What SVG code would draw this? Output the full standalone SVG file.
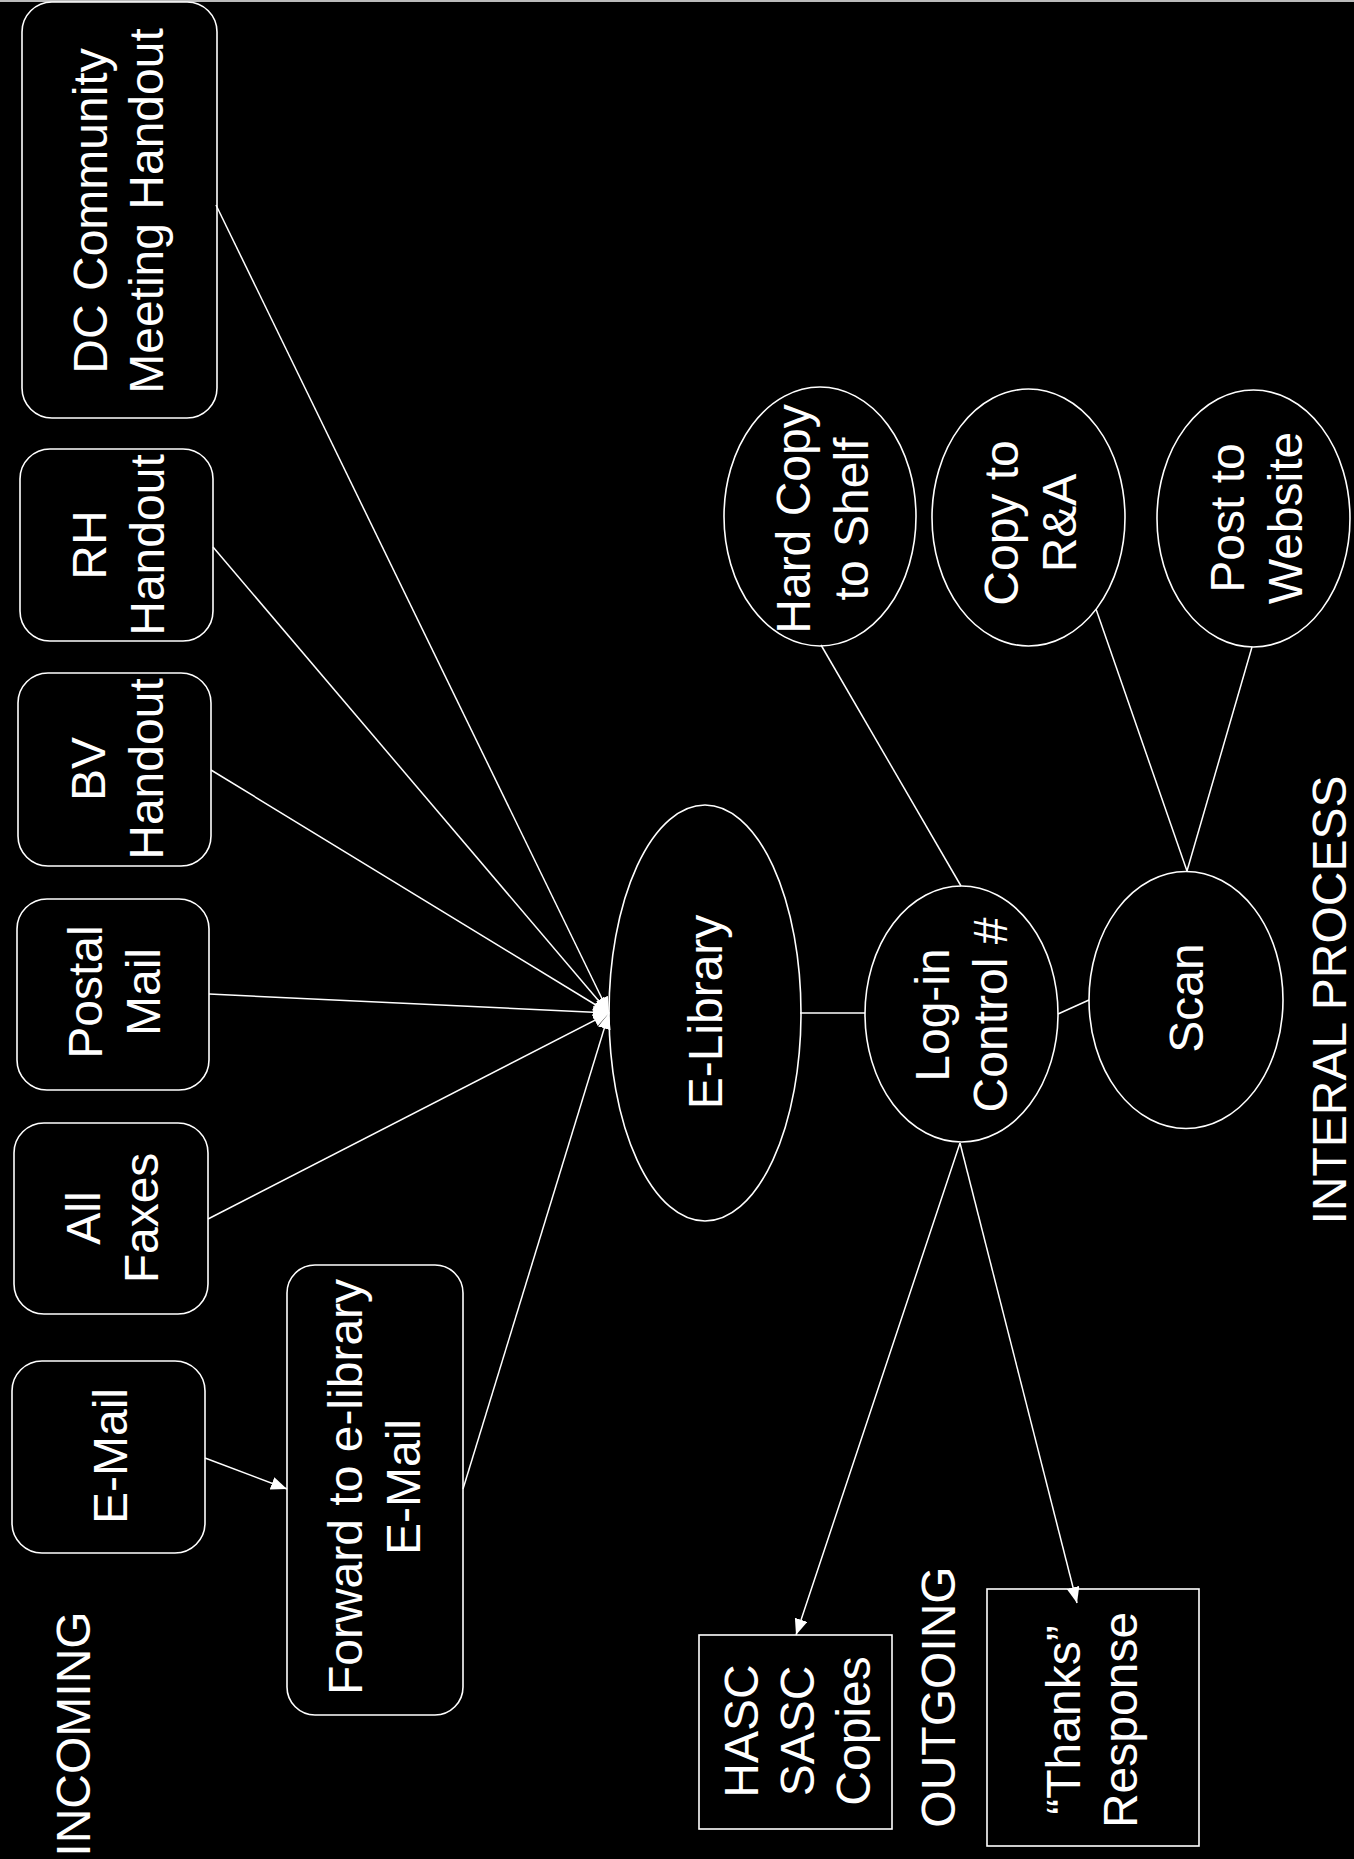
<svg xmlns="http://www.w3.org/2000/svg" width="1354" height="1859" viewBox="0 0 1354 1859">
<style>
.bg{fill:#000}
.box{fill:none;stroke:#fff;stroke-width:1.6}
.ln{fill:none;stroke:#fff;stroke-width:1.5}
.t{font-family:"Liberation Sans",Arial,sans-serif;font-size:48px;fill:#fff;text-anchor:middle}
</style>
<defs>
<marker id="ah" markerUnits="userSpaceOnUse" markerWidth="18" markerHeight="14" refX="16" refY="6.5" orient="auto">
<path d="M0,0 L16,6.5 L0,13 z" fill="#fff"/>
</marker>
</defs>
<rect class="bg" x="0" y="0" width="1354" height="1859"/>
<line x1="0" y1="1" x2="1354" y2="1" stroke="#bbb" stroke-width="2"/>

<g id="connectors">
<line class="ln" x1="216" y1="205" x2="609" y2="1013" marker-end="url(#ah)"/>
<line class="ln" x1="213" y1="547" x2="609" y2="1013" marker-end="url(#ah)"/>
<line class="ln" x1="211" y1="770" x2="609" y2="1013" marker-end="url(#ah)"/>
<line class="ln" x1="209" y1="994" x2="609" y2="1013" marker-end="url(#ah)"/>
<line class="ln" x1="208" y1="1219" x2="609" y2="1013" marker-end="url(#ah)"/>
<line class="ln" x1="463" y1="1489" x2="609" y2="1013" marker-end="url(#ah)"/>
<line class="ln" x1="205" y1="1458" x2="287" y2="1489" marker-end="url(#ah)"/>
<line class="ln" x1="800" y1="1013" x2="865" y2="1013"/>
<line class="ln" x1="1058" y1="1014" x2="1089" y2="1000"/>
<line class="ln" x1="821" y1="645" x2="961" y2="886"/>
<line class="ln" x1="1096" y1="609" x2="1187" y2="871"/>
<line class="ln" x1="1252" y1="647" x2="1187" y2="871"/>
<line class="ln" x1="960" y1="1143" x2="796" y2="1635" marker-end="url(#ah)"/>
<line class="ln" x1="960" y1="1143" x2="1077" y2="1603" marker-end="url(#ah)"/>
</g>

<g id="dc-community">
<rect class="box" x="22" y="2" width="195" height="416" rx="30"/>
<text class="t" transform="translate(0,211) rotate(-90)"><tspan x="0" y="107">DC Community</tspan><tspan x="0" y="163">Meeting Handout</tspan></text>
</g>
<g id="rh-handout">
<rect class="box" x="20" y="449" width="193" height="192" rx="30"/>
<text class="t" transform="translate(0,545) rotate(-90)"><tspan x="0" y="106">RH</tspan><tspan x="0" y="164">Handout</tspan></text>
</g>
<g id="bv-handout">
<rect class="box" x="18" y="673" width="193" height="193" rx="30"/>
<text class="t" transform="translate(0,769) rotate(-90)"><tspan x="0" y="105">BV</tspan><tspan x="0" y="163">Handout</tspan></text>
</g>
<g id="postal-mail">
<rect class="box" x="17" y="899" width="192" height="191" rx="30"/>
<text class="t" transform="translate(0,992) rotate(-90)"><tspan x="0" y="102">Postal</tspan><tspan x="0" y="160">Mail</tspan></text>
</g>
<g id="all-faxes">
<rect class="box" x="14" y="1123" width="194" height="191" rx="30"/>
<text class="t" transform="translate(0,1218) rotate(-90)"><tspan x="0" y="100">All</tspan><tspan x="0" y="158">Faxes</tspan></text>
</g>
<g id="e-mail">
<rect class="box" x="12" y="1361" width="193" height="192" rx="30"/>
<text class="t" transform="translate(0,1456) rotate(-90)"><tspan x="0" y="127">E-Mail</tspan></text>
</g>
<g id="forward">
<rect class="box" x="287" y="1265" width="176" height="450" rx="28"/>
<text class="t" transform="translate(0,1487) rotate(-90)"><tspan x="0" y="362">Forward to e-library</tspan><tspan x="0" y="420">E-Mail</tspan></text>
</g>
<g id="incoming-label">
<text class="t" transform="translate(0,1734) rotate(-90)"><tspan x="0" y="90">INCOMING</tspan></text>
</g>

<g id="e-library">
<ellipse class="box" cx="705" cy="1013" rx="96" ry="208"/>
<text class="t" transform="translate(0,1012) rotate(-90)"><tspan x="0" y="722">E-Library</tspan></text>
</g>
<g id="log-in">
<ellipse class="box" cx="961.5" cy="1014" rx="96.5" ry="128"/>
<text class="t" transform="translate(0,1015) rotate(-90)"><tspan x="0" y="949">Log-in</tspan><tspan x="0" y="1007">Control #</tspan></text>
</g>
<g id="scan">
<ellipse class="box" cx="1186" cy="1000" rx="97" ry="128.5"/>
<text class="t" transform="translate(0,998) rotate(-90)"><tspan x="0" y="1203">Scan</tspan></text>
</g>
<g id="hard-copy">
<ellipse class="box" cx="820" cy="516.5" rx="96" ry="129.5"/>
<text class="t" transform="translate(0,519) rotate(-90)"><tspan x="0" y="810">Hard Copy</tspan><tspan x="0" y="868">to Shelf</tspan></text>
</g>
<g id="copy-ra">
<ellipse class="box" cx="1028.5" cy="517.5" rx="96.5" ry="128.5"/>
<text class="t" transform="translate(0,523) rotate(-90)"><tspan x="0" y="1018">Copy to</tspan><tspan x="0" y="1076">R&amp;A</tspan></text>
</g>
<g id="post-website">
<ellipse class="box" cx="1253.5" cy="518.5" rx="96.5" ry="128.5"/>
<text class="t" transform="translate(0,518) rotate(-90)"><tspan x="0" y="1244">Post to</tspan><tspan x="0" y="1302">Website</tspan></text>
</g>
<g id="internal-label">
<text class="t" transform="translate(0,1000) rotate(-90)"><tspan x="0" y="1346">INTERAL PROCESS</tspan></text>
</g>

<g id="hasc">
<rect class="box" x="699" y="1635" width="193" height="194"/>
<text class="t" transform="translate(0,1731) rotate(-90)"><tspan x="0" y="758">HASC</tspan><tspan x="0" y="814">SASC</tspan><tspan x="0" y="870">Copies</tspan></text>
</g>
<g id="outgoing-label">
<text class="t" transform="translate(0,1697) rotate(-90)"><tspan x="0" y="955">OUTGOING</tspan></text>
</g>
<g id="thanks">
<rect class="box" x="987" y="1589" width="212" height="257"/>
<text class="t" transform="translate(0,1720) rotate(-90)"><tspan x="0" y="1080">“Thanks”</tspan><tspan x="0" y="1137">Response</tspan></text>
</g>
</svg>
